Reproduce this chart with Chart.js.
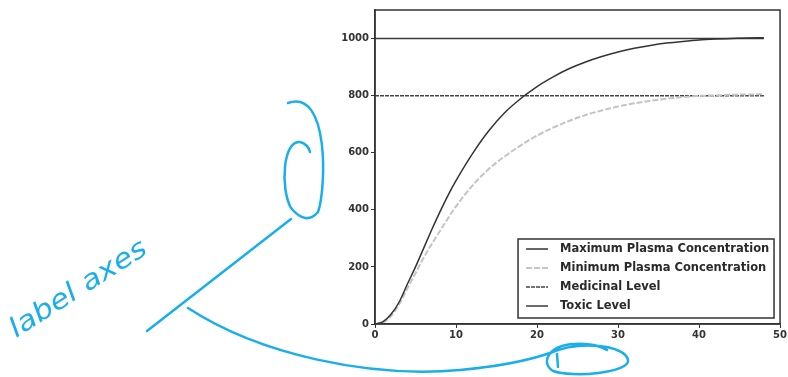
<!DOCTYPE html>
<html>
<head>
<meta charset="utf-8">
<script src="https://cdn.jsdelivr.net/npm/chart.js@4/dist/chart.umd.min.js"></script>
<style>
  html, body { margin: 0; padding: 0; background: #fff; }
  #wrap { position: relative; width: 788px; height: 377px; }
</style>
</head>
<body>
<div id="wrap"><canvas id="plasma"></canvas></div>
<script>
const hours = [0, 1, 2, 3, 4, 5, 6, 7, 8, 9, 10, 12, 14, 16, 18, 20, 22, 24, 26, 28, 30, 32, 34, 36, 38, 40, 42, 44, 46, 48];
const maxPlasma = [0, 8, 35, 78, 140, 200, 265, 330, 392, 450, 502, 595, 675, 740, 790, 832, 866, 895, 918, 937, 953, 966, 976, 984, 990, 995, 998, 1000, 1002, 1003];
const minPlasma = [0, 5, 28, 70, 125, 178, 232, 280, 325, 370, 412, 484, 542, 587, 626, 660, 688, 712, 732, 748, 762, 773, 782, 789, 795, 799, 801, 803, 804, 805];
const levelHours = [0, 48];
const medicinalLevel = [800, 800];
const toxicLevel = [1000, 1000];
const xTicks = [0, 10, 20, 30, 40, 50];
const yTicks = [0, 200, 400, 600, 800, 1000];

function pts(xs, ys) {
  return xs.map((x, i) => ({ x: x, y: ys[i] }));
}

const tickFont = { family: 'DejaVu Sans', size: 10, weight: 'bold' };

// frame around the plot + legend box inside lower right
const framePlugin = {
  id: 'frame',
  afterDraw(chart) {
    const ctx = chart.ctx;
    const a = chart.chartArea;
    ctx.save();
    ctx.strokeStyle = '#333';
    ctx.lineWidth = 1.5;
    ctx.strokeRect(a.left, a.top, a.right - a.left, a.bottom - a.top);

    // legend
    const w = 256, h = 79;
    const lx = a.right - 6 - w, ly = a.bottom - 6 - h;
    ctx.fillStyle = '#fff';
    ctx.fillRect(lx, ly, w, h);
    ctx.lineWidth = 1.5;
    ctx.strokeStyle = '#333';
    ctx.strokeRect(lx, ly, w, h);
    ctx.font = 'bold 11.5px "DejaVu Sans"';
    ctx.textBaseline = 'middle';
    chart.data.datasets.forEach((ds, i) => {
      const y = ly + 10 + i * 19;
      ctx.strokeStyle = ds.borderColor;
      ctx.lineWidth = ds.borderWidth;
      ctx.setLineDash(ds.borderDash || []);
      ctx.beginPath();
      ctx.moveTo(lx + 8, y);
      ctx.lineTo(lx + 30, y);
      ctx.stroke();
      ctx.setLineDash([]);
      ctx.fillStyle = '#2a2a2a';
      ctx.fillText(ds.label, lx + 42, y);
    });
    ctx.restore();
  }
};

// blue handwritten note on the scan
const notePlugin = {
  id: 'note',
  afterDraw(chart) {
    const ctx = chart.ctx;
    ctx.save();
    ctx.strokeStyle = '#1aaeea';
    ctx.fillStyle = '#1aaeea';
    ctx.lineWidth = 2.5;
    ctx.lineCap = 'round';
    ctx.lineJoin = 'round';
    // pointer line
    ctx.beginPath();
    ctx.moveTo(147, 331);
    ctx.lineTo(291, 219);
    ctx.stroke();
    // loop at top
    ctx.beginPath();
    ctx.moveTo(288, 103);
    ctx.bezierCurveTo(330, 88, 326, 190, 318, 212);
    ctx.quadraticCurveTo(306, 226, 291, 208);
    ctx.bezierCurveTo(280, 188, 283, 140, 300, 142);
    ctx.quadraticCurveTo(308, 144, 310, 152);
    ctx.stroke();
    // lower curve towards x axis
    ctx.beginPath();
    ctx.moveTo(188, 308);
    ctx.bezierCurveTo(260, 355, 370, 378, 460, 370);
    ctx.quadraticCurveTo(515, 365, 550, 353);
    ctx.bezierCurveTo(580, 340, 625, 345, 628, 360);
    ctx.bezierCurveTo(630, 373, 572, 378, 553, 371);
    ctx.bezierCurveTo(540, 363, 548, 345, 575, 344);
    ctx.quadraticCurveTo(595, 343, 607, 350);
    ctx.stroke();
    ctx.beginPath();
    ctx.moveTo(557, 354);
    ctx.lineTo(558, 367);
    ctx.stroke();
    // text
    ctx.translate(16, 338);
    ctx.rotate(-0.57);
    ctx.font = 'italic 27px "DejaVu Sans"';
    const tw = ctx.measureText('label axes').width;
    ctx.scale(158 / tw, 1);
    ctx.fillText('label axes', 0, 0);
    ctx.restore();
  }
};

const data = {
  datasets: [{
    label: 'Maximum Plasma Concentration',
    data: pts(hours, maxPlasma),
    borderColor: '#333333',
    borderWidth: 1.5,
    pointRadius: 0,
    cubicInterpolationMode: 'monotone',
  }, {
    label: 'Minimum Plasma Concentration',
    data: pts(hours, minPlasma),
    borderColor: '#c4c4c4',
    borderWidth: 2,
    borderDash: [6, 2],
    pointRadius: 0,
    cubicInterpolationMode: 'monotone',
  }, {
    label: 'Medicinal Level',
    data: pts(levelHours, medicinalLevel),
    borderColor: '#444444',
    borderWidth: 1.5,
    borderDash: [4, 1],
    pointRadius: 0,
  }, {
    label: 'Toxic Level',
    data: pts(levelHours, toxicLevel),
    borderColor: '#3a3a3a',
    borderWidth: 1.5,
    pointRadius: 0,
  }]
};

const config = {
  type: 'line',
  data,
  options: {
    responsive: true,
    maintainAspectRatio: false,
    animation: false,
    layout: { padding: { left: 335, right: 6, top: 10, bottom: 35 } },
    scales: {
      x: {
        type: 'linear',
        min: 0,
        max: 50,
        afterBuildTicks: s => { s.ticks = xTicks.map(v => ({ value: v })); },
        ticks: { font: tickFont, color: '#333', padding: 1, maxRotation: 0, callback: v => String(v) },
        grid: { drawOnChartArea: false, tickLength: 4, color: '#333' },
        border: { color: '#333', width: 1.5 },
      },
      y: {
        min: 0,
        max: 1100,
        afterBuildTicks: s => { s.ticks = yTicks.map(v => ({ value: v })); },
        afterFit: s => { s.width = 40; },
        ticks: { font: tickFont, color: '#333', padding: 2, callback: v => String(v) },
        grid: { drawOnChartArea: false, tickLength: 4, color: '#333' },
        border: { color: '#333', width: 1.5 },
      }
    },
    plugins: {
      legend: { display: false },
      tooltip: { enabled: false },
    }
  },
  plugins: [framePlugin, notePlugin]
};

var plasmaChart = new Chart(document.getElementById('plasma'), config);
</script>
</body>
</html>
